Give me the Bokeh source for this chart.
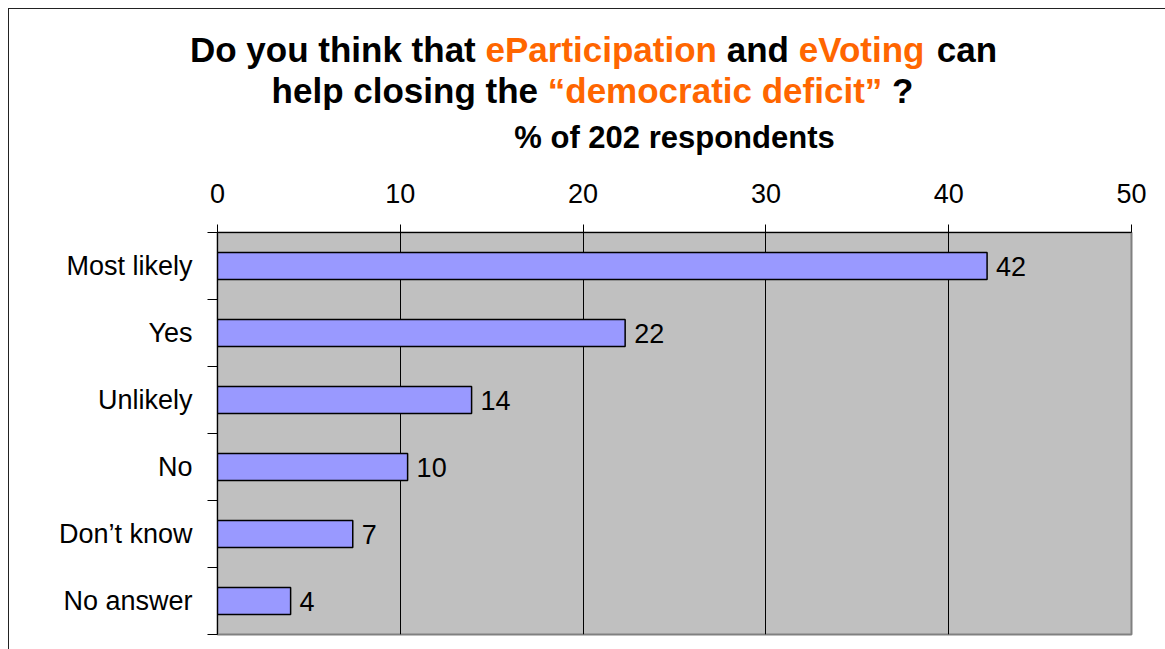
from bokeh.plotting import figure
from bokeh.layouts import column
from bokeh.models import Range1d, FixedTicker
from bokeh.core.properties import value
from bokeh.embed import file_html
from bokeh.resources import INLINE

# ---------------- data ----------------
categories = ["Most likely", "Yes", "Unlikely", "No", "Don\u2019t know", "No answer"]
percent = [42.1, 22.3, 13.9, 10.4, 7.4, 4.0]
value_labels = ["42", "22", "14", "10", "7", "4"]
x_ticks = [0, 10, 20, 30, 40, 50]

ORANGE = "#FF6600"
title_line1 = [("Do you think that ", "black"), ("eParticipation", ORANGE),
               (" and ", "black"), ("eVoting", ORANGE), (" can", "black")]
title_line2 = [("help closing the ", "black"), ("\u201cdemocratic deficit\u201d", ORANGE),
               (" ?", "black")]
subtitle = "% of 202 respondents"

FONT = "Liberation Sans"
BAR_COLOR = "#9999FF"
PLOT_BG = "#C0C0C0"

# page geometry
X0, Y0 = 9, 9          # inside the 8px margin + 1px border
TOTAL_W, TOTAL_H = 1156, 640
TITLE_BOTTOM = 178
title_h = TITLE_BOTTOM - Y0

# ---------------- title figure ----------------
t = figure(width=TOTAL_W, height=title_h, output_backend="svg", toolbar_location=None,
           x_range=Range1d(X0, X0 + TOTAL_W), y_range=Range1d(TITLE_BOTTOM, Y0),
           x_axis_location=None, y_axis_location=None,
           min_border_left=0, min_border_right=0, min_border_top=0, min_border_bottom=0)
t.frame_align = False
t.grid.visible = False
t.outline_line_color = None
t.background_fill_color = "white"
t.border_fill_color = "white"

AW = {' ': 278, 'D': 722, 'o': 611, 'y': 556, 'u': 611, 't': 333, 'h': 611, 'i': 278,
      'n': 611, 'k': 556, 'a': 556, 'e': 556, 'P': 667, 'r': 389, 'c': 556, 'p': 611,
      'V': 667, 'g': 611, 'l': 278, 's': 556, 'm': 889, 'f': 333, 'd': 611,
      '\u201c': 500, '\u201d': 500, '?': 611, '%': 889, '0': 556, '2': 556}


def text_width(s, size):
    return sum(AW.get(ch, 556) for ch in s) * size / 1000.0


def add_line(parts, xc, yb, size):
    total = sum(text_width(s, size) for s, _ in parts)
    xs = xc - total / 2.0
    for s, col in parts:
        lead = s[:len(s) - len(s.lstrip())]
        t.text(x=[xs + text_width(lead, size)], y=[yb], text=[s.strip()], text_color=col,
               text_font=value(FONT), text_font_style="bold",
               text_font_size=f"{size}px",
               text_align="left", text_baseline="alphabetic")
        xs += text_width(s, size)


add_line(title_line1, 593, 49, 35)
add_line(title_line2, 592, 90, 35)
add_line([(subtitle, "black")], 674, 137, 31)

# ---------------- main chart ----------------
n = len(categories)
ypos = [n - i - 0.5 for i in range(n)]

p = figure(width=TOTAL_W, height=TOTAL_H - title_h, output_backend="svg",
           toolbar_location=None,
           x_range=Range1d(0, 50), y_range=Range1d(0, n),
           x_axis_location="above",
           min_border_left=217 - X0, min_border_right=X0 + TOTAL_W - 1131,
           min_border_top=232 - TITLE_BOTTOM, min_border_bottom=Y0 + TOTAL_H - 634)
p.frame_align = False

p.background_fill_color = PLOT_BG
p.border_fill_color = "white"
p.outline_line_color = "#808080"
p.outline_line_width = 2

xa = p.xaxis[0]
xa.ticker = FixedTicker(ticks=x_ticks)
xa.axis_line_color = "black"
xa.major_tick_line_color = "black"
xa.major_tick_out = 8
xa.major_tick_in = 0
xa.minor_tick_line_color = None
xa.major_label_standoff = 22
xa.major_label_text_font = FONT
xa.major_label_text_font_size = "27px"
xa.major_label_text_color = "black"

ya = p.yaxis[0]
ya.ticker = FixedTicker(ticks=ypos, minor_ticks=list(range(n + 1)))
ya.major_label_overrides = {y: c for y, c in zip(ypos, categories)}
ya.axis_line_color = "black"
ya.major_tick_line_color = None
ya.major_tick_out = 0
ya.major_tick_in = 0
ya.minor_tick_line_color = "black"
ya.minor_tick_out = 10
ya.minor_tick_in = 0
ya.major_label_standoff = 15
ya.major_label_text_font = FONT
ya.major_label_text_font_size = "27px"
ya.major_label_text_color = "black"

p.xgrid.ticker = FixedTicker(ticks=x_ticks)
p.xgrid.grid_line_color = "black"
p.xgrid.grid_line_width = 1
p.ygrid.visible = False

p.hbar(y=ypos, left=0, right=percent, height=0.4,
       fill_color=BAR_COLOR, line_color="black", line_width=1.5)

p.text(x=percent, y=ypos, text=value_labels, x_offset=9,
       text_baseline="middle", text_align="left",
       text_font=value(FONT), text_font_size="27px", text_color="black")

layout = column(t, p, spacing=0,
                styles={"margin-left": "8px", "margin-top": "8px",
                        "border-left": "1px solid #222222",
                        "border-top": "1px solid #222222"})

open("out.html", "w").write(file_html(layout, INLINE))
